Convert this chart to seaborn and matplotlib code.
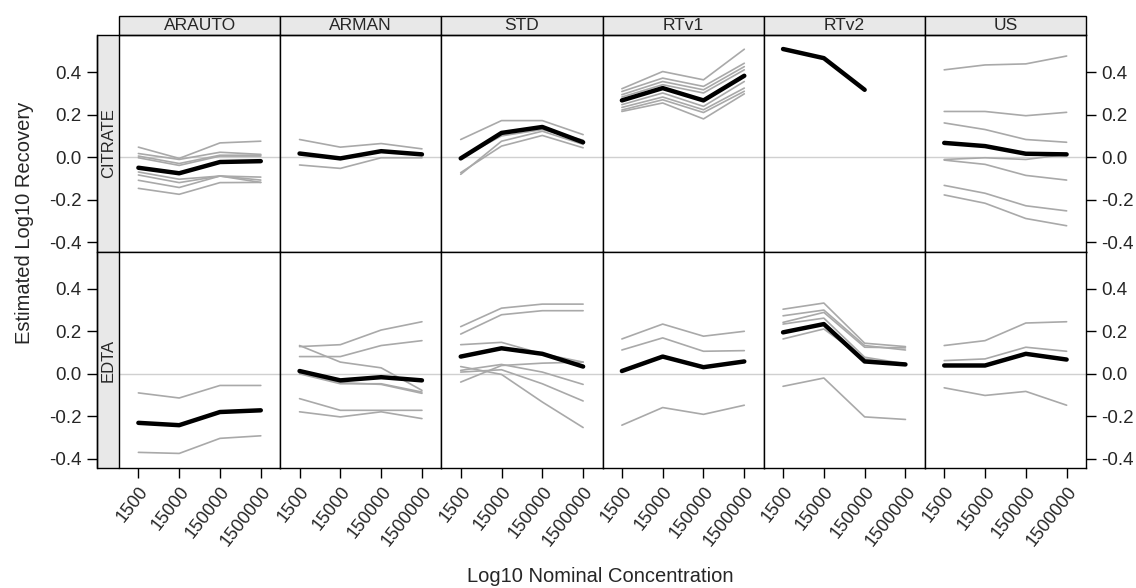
"""
Lattice-style panel plot of estimated log10 recovery by method and anticoagulant.
"""

import numpy as np
import pandas as pd
import seaborn as sns
import matplotlib.pyplot as plt
from matplotlib.patches import Rectangle

methods = ["ARAUTO", "ARMAN", "STD", "RTv1", "RTv2", "US"]
anticoags = ["CITRATE", "EDTA"]
conc = [1500, 15000, 150000, 1500000]
conc_labels = ["1500", "15000", "150000", "1500000"]

# mean (black) line per panel
citrate_mean = {
    "ARAUTO": [-0.050, -0.076, -0.023, -0.019],
    "ARMAN": [0.017, -0.006, 0.028, 0.013],
    "STD": [-0.006, 0.114, 0.142, 0.070],
    "RTv1": [0.267, 0.325, 0.267, 0.383],
    "RTv2": [0.509, 0.466, 0.317, np.nan],
    "US": [0.067, 0.052, 0.016, 0.013],
}
edta_mean = {
    "ARAUTO": [-0.231, -0.242, -0.180, -0.172],
    "ARMAN": [0.013, -0.031, -0.016, -0.031],
    "STD": [0.081, 0.120, 0.094, 0.034],
    "RTv1": [0.013, 0.081, 0.031, 0.058],
    "RTv2": [0.195, 0.234, 0.058, 0.044],
    "US": [0.039, 0.039, 0.094, 0.067],
}

# individual (gray) lines per panel
citrate_subjects = {
    "ARAUTO": [
        [0.047, -0.006, 0.067, 0.075],
        [0.017, -0.011, 0.023, 0.013],
        [0.005, -0.030, 0.009, 0.009],
        [-0.003, -0.039, 0.005, 0.005],
        [-0.070, -0.104, -0.089, -0.108],
        [-0.084, -0.120, -0.089, -0.094],
        [-0.109, -0.143, -0.089, -0.119],
        [-0.147, -0.175, -0.120, -0.119],
    ],
    "ARMAN": [
        [0.083, 0.047, 0.064, 0.039],
        [-0.037, -0.053, -0.003, -0.003],
    ],
    "STD": [
        [0.083, 0.172, 0.172, 0.106],
        [-0.073, 0.052, 0.102, 0.044],
        [-0.081, 0.075, 0.122, 0.060],
        [-0.004, 0.100, 0.130, 0.080],
    ],
    "RTv1": [
        [0.322, 0.403, 0.364, 0.508],
        [0.309, 0.372, 0.333, 0.442],
        [0.294, 0.356, 0.317, 0.426],
        [0.283, 0.341, 0.302, 0.411],
        [0.247, 0.302, 0.239, 0.356],
        [0.234, 0.283, 0.223, 0.325],
        [0.222, 0.270, 0.210, 0.310],
        [0.215, 0.255, 0.180, 0.298],
    ],
    "RTv2": [],
    "US": [
        [0.411, 0.434, 0.439, 0.476],
        [0.215, 0.215, 0.195, 0.211],
        [0.161, 0.130, 0.083, 0.070],
        [-0.011, -0.003, -0.011, 0.013],
        [-0.014, -0.034, -0.086, -0.108],
        [-0.133, -0.170, -0.229, -0.253],
        [-0.178, -0.217, -0.289, -0.323],
    ],
}
edta_subjects = {
    "ARAUTO": [
        [-0.090, -0.114, -0.055, -0.055],
        [-0.370, -0.375, -0.304, -0.292],
    ],
    "ARMAN": [
        [0.128, 0.137, 0.206, 0.245],
        [0.081, 0.081, 0.133, 0.156],
        [0.133, 0.055, 0.028, -0.078],
        [0.000, -0.047, -0.047, -0.086],
        [-0.117, -0.172, -0.172, -0.172],
        [-0.179, -0.203, -0.179, -0.211],
        [0.005, -0.042, -0.050, -0.092],
    ],
    "STD": [
        [0.222, 0.309, 0.328, 0.328],
        [0.187, 0.278, 0.297, 0.297],
        [0.137, 0.148, 0.094, 0.055],
        [0.034, -0.003, -0.133, -0.253],
        [0.008, 0.019, -0.047, -0.128],
        [-0.039, 0.039, 0.050, 0.055],
        [0.016, 0.044, 0.008, -0.050],
    ],
    "RTv1": [
        [0.164, 0.234, 0.177, 0.200],
        [0.112, 0.169, 0.106, 0.109],
        [-0.242, -0.159, -0.191, -0.148],
    ],
    "RTv2": [
        [0.304, 0.333, 0.144, 0.128],
        [0.273, 0.300, 0.133, 0.112],
        [0.242, 0.289, 0.125, 0.122],
        [0.234, 0.262, 0.078, 0.047],
        [0.164, 0.211, 0.070, 0.044],
        [-0.059, -0.020, -0.203, -0.215],
    ],
    "US": [
        [0.133, 0.156, 0.239, 0.245],
        [0.062, 0.070, 0.125, 0.106],
        [-0.066, -0.102, -0.083, -0.148],
    ],
}

y_ticks = [-0.4, -0.2, 0.0, 0.2, 0.4]


def build_frame():
    """Long-form table with one row per point."""
    rows = []
    sources = {"CITRATE": (citrate_mean, citrate_subjects),
               "EDTA": (edta_mean, edta_subjects)}
    for ac, (means, subjects) in sources.items():
        for m in methods:
            for k, v in enumerate(means[m]):
                rows.append((ac, m, "mean", "mean", np.log10(conc[k]), v))
            for i, line in enumerate(subjects[m]):
                for k, v in enumerate(line):
                    rows.append((ac, m, "subject", f"s{i}", np.log10(conc[k]), v))
    return pd.DataFrame(rows, columns=["anticoag", "method", "kind", "line",
                                       "log_conc", "recovery"]).dropna()


df = build_frame()

sns.set_theme(style="white")
plt.rcParams["font.family"] = ["Liberation Sans", "DejaVu Sans"]
plt.rcParams["axes.unicode_minus"] = False

fig, axes = plt.subplots(2, 6, figsize=(11.36, 5.88), dpi=100, sharex=True, sharey=True)
fig.subplots_adjust(left=119 / 1136, right=1086 / 1136, top=1 - 35 / 588,
                    bottom=1 - 468.3 / 588, wspace=0, hspace=0)

x_pos = np.log10(conc)
strip_color = "#e8e8e8"

for r, ac in enumerate(anticoags):
    for c, m in enumerate(methods):
        ax = axes[r, c]
        sub = df[(df.anticoag == ac) & (df.method == m)]
        ax.axhline(0, color="#d0d0d0", lw=1.0, zorder=1)
        subj = sub[sub.kind == "subject"]
        if len(subj):
            sns.lineplot(data=subj, x="log_conc", y="recovery", units="line",
                         estimator=None, color="#a9a9a9", lw=1.2, ax=ax, zorder=2)
        sns.lineplot(data=sub[sub.kind == "mean"], x="log_conc", y="recovery",
                     color="black", lw=3.2, ax=ax, zorder=3)

        ax.set_xlim(x_pos[0] - 0.475, x_pos[-1] + 0.475)
        ax.set_ylim(-0.445, 0.575)
        ax.set_xlabel("")
        ax.set_ylabel("")
        for sp in ax.spines.values():
            sp.set_color("black")
            sp.set_linewidth(1.0)

        ax.set_xticks(x_pos)
        ax.set_yticks(y_ticks)
        ax.tick_params(axis="both", which="both", left=False, right=False,
                       bottom=False, top=False, labelleft=False,
                       labelright=False, labelbottom=False)

        if r == 0:
            h = 19.3 / 216.8
            ax.add_patch(Rectangle((0, 1), 1, h, transform=ax.transAxes,
                                   clip_on=False, fc=strip_color, ec="black", lw=1.0))
            ax.text(0.5, 1 + h / 2, m, transform=ax.transAxes, ha="center",
                    va="center", fontsize=12.5)
        if c == 0:
            w = 21.6 / 161.1
            ax.add_patch(Rectangle((-w, 0), w, 1, transform=ax.transAxes,
                                   clip_on=False, fc=strip_color, ec="black", lw=1.0))
            ax.text(-w / 2, 0.5, ac, transform=ax.transAxes, ha="center",
                    va="center", rotation=90, fontsize=12)
            ax.spines["left"].set_position(("outward", 21.6 * 0.72))
            ax.tick_params(axis="y", left=True, labelleft=True, length=7.5,
                           width=1.0, pad=4, labelsize=13.5, color="black")
            ax.set_yticklabels([f"{v:.1f}" for v in y_ticks])
        if c == len(methods) - 1:
            ax.tick_params(axis="y", right=True, labelright=True, length=7,
                           width=1.0, pad=4, labelsize=13.5, color="black")
            ax.set_yticklabels([f"{v:.1f}" for v in y_ticks])
        if r == 1:
            ax.tick_params(axis="x", bottom=True, labelbottom=True, length=7,
                           width=1.0, pad=4, labelsize=13, color="black")
            ax.set_xticklabels(conc_labels, rotation=52, ha="right",
                               va="top", rotation_mode="anchor")

fig.text(0.022, 1 - 222.5 / 588, "Estimated Log10 Recovery", rotation=90,
         ha="center", va="center", fontsize=14.5)
fig.text(600 / 1136, 1 - 577 / 588, "Log10 Nominal Concentration",
         ha="center", va="center", fontsize=14.5)

fig.savefig("out.png", dpi=100)
